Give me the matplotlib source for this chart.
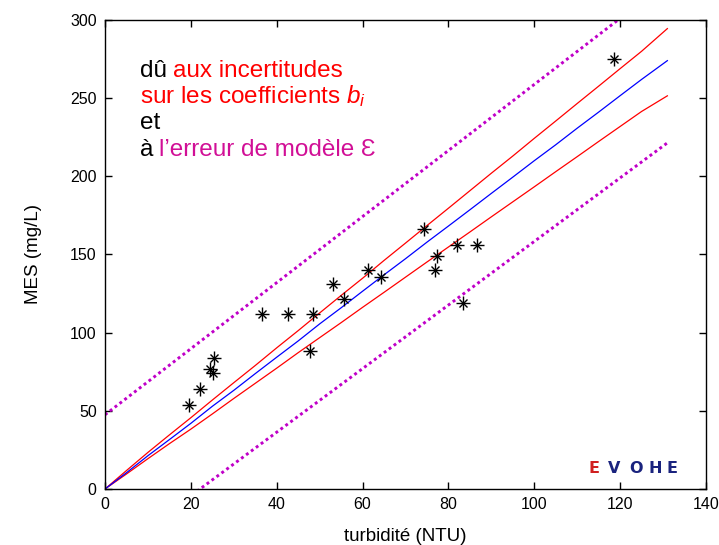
import matplotlib
matplotlib.use('Agg')
import matplotlib.pyplot as plt

plt.rcParams['font.family'] = ['Liberation Sans', 'DejaVu Sans']
plt.rcParams['mathtext.fontset'] = 'custom'
plt.rcParams['mathtext.rm'] = 'Liberation Sans'
plt.rcParams['mathtext.it'] = 'Liberation Sans:italic'

# mesures (turbidite / MES)
turb = [19.6, 22.1, 24.5, 25.1, 25.4, 36.5, 42.7, 48.5, 47.8, 53.2,
        55.7, 61.3, 64.2, 74.2, 76.9, 77.3, 82.1, 86.6, 83.5, 118.6]
mes = [53.7, 64.2, 76.8, 74.2, 83.8, 111.8, 111.8, 111.8, 88.3, 131.2,
       121.6, 140.1, 135.6, 166.3, 139.9, 149.3, 155.9, 155.9, 118.8, 275.1]

# modele et intervalle du aux incertitudes sur les b_i
x_model = [0, 5, 10, 15, 20, 25, 30, 35, 40, 45, 50, 55, 60, 65, 70,
           75, 80, 85, 90, 95, 100, 105, 110, 115, 120, 125, 131]
y_model = [0, 10.4, 21.3, 31.6, 42.0, 52.9, 63.1, 73.8, 84.3, 94.7, 105.6,
           115.9, 126.5, 137.0, 147.3, 157.9, 168.2, 178.6, 189.1, 199.5,
           210.0, 220.2, 230.8, 241.1, 251.6, 262.0, 274.0]
y_up = [0, 11.8, 23.4, 34.6, 45.6, 56.9, 68.0, 79.0, 90.3, 101.3, 112.6,
        123.8, 134.8, 146.2, 157.3, 168.5, 179.6, 190.8, 202.0, 213.0,
        224.3, 235.4, 246.6, 257.7, 268.9, 280.0, 294.5]
y_low = [0, 9.6, 19.4, 29.0, 38.3, 48.0, 57.9, 67.6, 77.3, 87.2, 96.8,
         106.4, 116.2, 125.8, 135.5, 145.2, 154.8, 164.4, 174.1, 183.7,
         193.3, 203.0, 212.6, 222.3, 231.9, 241.5, 251.5]

# intervalle avec l'erreur de modele
x_pred = [0, 131]
pred_up = [47.5, 324.3]
pred_low = [-45.0, 221.4]

W, H = 719, 545
fig = plt.figure(figsize=(W / 100, H / 100), dpi=100)
ax = fig.add_axes([105 / W, 1 - 489 / H, 601 / W, 469 / H])

ax.plot(x_pred, pred_up, color='#c000c8', lw=2.1, linestyle=(0, (1, 1.1)),
        dash_capstyle='butt')
ax.plot(x_pred, pred_low, color='#c000c8', lw=2.1, linestyle=(0, (1, 1.1)),
        dash_capstyle='butt')
ax.plot(x_model, y_up, color='#ff0000', lw=0.9)
ax.plot(x_model, y_low, color='#ff0000', lw=0.9)
ax.plot(x_model, y_model, color='#0000ff', lw=0.9)
ax.plot(turb, mes, '+', color='k', ms=10, mew=1.0)
ax.plot(turb, mes, 'x', color='k', ms=6, mew=1.0)

ax.set_xlim(0, 140)
ax.set_ylim(0, 300)
ax.set_xticks(range(0, 141, 20))
ax.set_yticks(range(0, 301, 50))
ax.tick_params(direction='in', length=5, width=1, top=True, right=True,
               labelsize=11.5, pad=6)
for sp in ax.spines.values():
    sp.set_linewidth(1)
ax.set_xlabel('turbidité (NTU)', fontsize=13.5, labelpad=11)
ax.set_ylabel('MES (mg/L)', fontsize=13.5, labelpad=20)

# texte en couleurs
renderer = fig.canvas.get_renderer()


def write_line(x_px, y_px, parts, size=17.5):
    for s, c in parts:
        t = fig.text(x_px / W, 1 - y_px / H, s, color=c, fontsize=size,
                     va='baseline', ha='left')
        bb = t.get_window_extent(renderer=renderer)
        x_px = bb.x1 + 6


write_line(140, 77, [('dû', 'k'), ('aux incertitudes', '#ff0000')])
write_line(140, 103, [('sur les coefficients $b_i$', '#ff0000')])
write_line(140, 129, [('et', 'k')])
write_line(140, 156, [('à', 'k'), ('l\u2019erreur de modèle \u0190', '#d10f96')])

# logo
logo = ['E', 'V', 'O', 'H', 'E']
logo_x = [593.5, 614, 635.5, 655.5, 671.5]
logo_c = ['#d02020', '#1a237e', '#1a237e', '#1a237e', '#1a237e']
for s, xp, c in zip(logo, logo_x, logo_c):
    fig.text(xp / W, 1 - 473 / H, s, color=c, fontsize=11.5, fontweight='bold',
             family='DejaVu Sans', ha='center', va='baseline')

fig.savefig('out.png', dpi=100)
